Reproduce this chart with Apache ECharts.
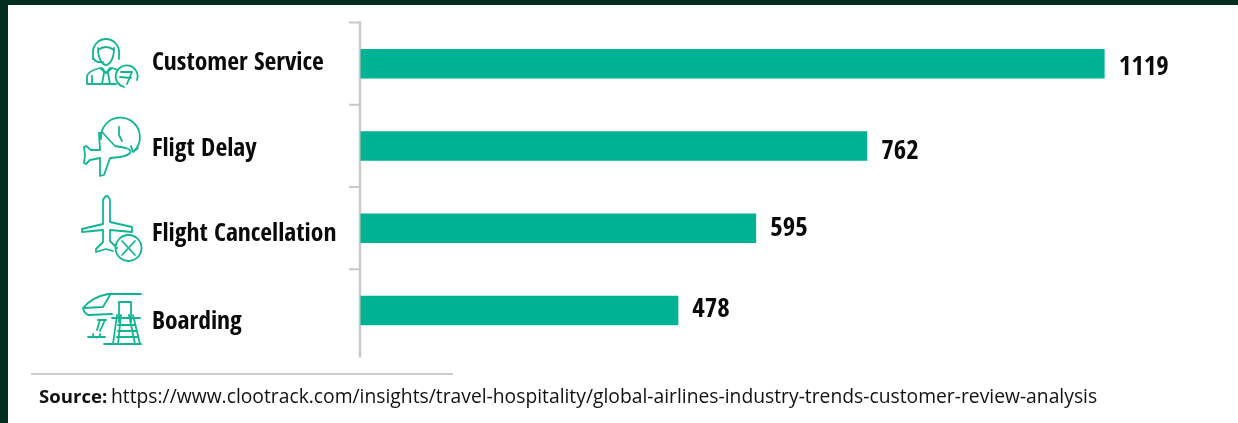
<!DOCTYPE html>
<html>
<head>
<meta charset="utf-8">
<style>
  html, body { margin: 0; padding: 0; background: #fff; }
  #chart { width: 1238px; height: 423px; }
</style>
<script src="https://cdn.jsdelivr.net/npm/echarts@6/dist/echarts.min.js"></script>
</head>
<body>
<div id="chart"></div>
<script>
const categories = ['Customer Service', 'Fligt Delay', 'Flight Cancellation', 'Boarding'];
const complaints = [1119, 762, 595, 478];
const sourceLabel = 'Source:';
const sourceUrl = 'https://www.clootrack.com/insights/travel-hospitality/global-airlines-industry-trends-customer-review-analysis';

const GREEN = '#00B294';
const ICON = '#12B593';
const AXIS_GREY = '#C9C9C9';
const DARK = '#032E1F';
const NARROW = '"Open Sans Condensed", "Roboto Condensed", sans-serif';

const GRID = { left: 360.5, top: 22.5, width: 798, height: 329 };

// Small vertical nudges for the row captions and the value labels.
const captionStyles = {
  c0: { padding: [0, 0, 0, 0] },
  c1: { padding: [6, 0, 0, 0] },
  c2: { padding: [12, 0, 0, 0] },
  c3: { padding: [24, 0, 0, 0] }
};
Object.values(captionStyles).forEach(s => {
  s.fontFamily = NARROW; s.fontWeight = 'bold'; s.fontSize = 25.6; s.color = '#0A0A0A';
});
const valueOffsets = [4, 6, 1, 0];

// Line-art pictograms, one per row.
const iconPaths = [
  // agent with headset and a small plane badge
  'M93 52 A13 13 0 1 1 119 52 M93 50 L93 59 M119 50 L119 59 M98 50 Q106 44 114 50 ' +
  'M98 48 C98 60 103 65 106 65 C109 65 114 60 114 48 M94 59 Q96 63 103 62 ' +
  'M87 84 L87 76 Q88 71 100 68 L106 73 L112 68 L118 70 M87 84 L116 84 M92 84 L92 76 ' +
  'M104 73 L102 84 M108 73 L110 84 M102 68 L106 73 L110 68 ' +
  'M124 87 A11 11 0 1 1 137 80 M121 72 L132 72 L127 84 M120 77 L131 78',
  // airliner in front of a clock
  'M101 139 A19.5 19.5 0 1 1 133 152 M133 152 L131 146 M133 152 L138 148 M119 127 L119 135 L122 141 ' +
  'M99 133 L102 132 L115 146 L126 148 Q132 150 130 153 Q127 156 120 157 L110 158 L104 175 L100 176 L100 158 ' +
  'L90 160 L86 164 L84 163 L85 155 L84 147 L86 146 L91 150 L100 150 L99 133',
  // airliner with a cross badge
  'M103 224 L103 200 Q107 192 110 200 L110 222 L132 227 L132 232 L110 230 L110 241 L117 248 ' +
  'M103 224 L82 229 L82 232 L103 230 L103 242 L96 249 L96 252 L106 249 L113 251 ' +
  'M141.5 248 A13 13 0 1 1 115.5 248 A13 13 0 1 1 141.5 248 M122 241 L135 255 M135 241 L122 255',
  // nose of a jet at the boarding stairs
  'M141 294 L108 294 Q92 297 83 308 Q84 313 88 315 L112 314 M84 308 L103 307 L110 295 ' +
  'M112 318 L140 318 M98 320 L106 320 M100 320 L97 330 M105 320 L100 331 M88 337 L105 337 M100 334 A3.5 3.5 0 1 1 93 334 ' +
  'M119 322 L119 302 L131 302 L131 322 M117 315 L113 344 M133 315 L140 344 M121 315 L118 344 M129 315 L135 344 ' +
  'M118 325 L134 325 M118 331 L136 331 M117 337 L137 337 M104 344 L141 344'
];
iconPaths.forEach((d, i) => {
  echarts.graphic.registerShape('rowIcon' + i, echarts.graphic.extendPath(d));
});

const chart = echarts.init(document.getElementById('chart'), null, { renderer: 'canvas' });

function build() {
  const graphics = [
    { type: 'rect', shape: { x: 0, y: 0, width: 1238, height: 5 }, style: { fill: DARK }, silent: true },
    { type: 'rect', shape: { x: 0, y: 0, width: 8, height: 423 }, style: { fill: DARK }, silent: true },
    // baseline stem running just below the last row
    { type: 'line', shape: { x1: 360, y1: GRID.top - 1, x2: 360, y2: 357.5 },
      style: { stroke: AXIS_GREY, lineWidth: 2.5 }, silent: true },
    // rule above the source note
    { type: 'line', shape: { x1: 31, y1: 374, x2: 453, y2: 374 },
      style: { stroke: '#9A9A9A', lineWidth: 1 }, silent: true },
    { type: 'text', x: 39, y: 398,
      style: { text: sourceLabel, font: 'bold 18.6px "Open Sans", sans-serif', fill: '#111',
               textVerticalAlign: 'middle' } },
    { type: 'text', x: 111, y: 398,
      style: { text: sourceUrl, font: '19.3px "Open Sans", sans-serif', fill: '#111',
               textVerticalAlign: 'middle' } }
  ];
  iconPaths.forEach((_, i) => graphics.push({
    type: 'rowIcon' + i,
    style: { fill: 'none', stroke: ICON, lineWidth: 1.8, lineJoin: 'round', lineCap: 'round' },
    silent: true
  }));
  // band separators on the stem; one above each row
  const band = GRID.height / categories.length;
  categories.forEach((_, i) => graphics.push({
    type: 'line',
    shape: { x1: 349, y1: GRID.top + band * i, x2: 360, y2: GRID.top + band * i },
    style: { stroke: AXIS_GREY, lineWidth: 2 }, silent: true
  }));

  return {
    animation: false,
    backgroundColor: '#fff',
    grid: Object.assign({ containLabel: false }, GRID),
    xAxis: { type: 'value', min: 0, max: 1200, show: false },
    yAxis: {
      type: 'category',
      inverse: true,
      data: categories,
      axisLine: { show: false },
      axisTick: { show: false },
      axisLabel: {
        align: 'left',
        margin: 208.5,
        formatter: (v, i) => `{c${i}|${v}}`,
        rich: captionStyles
      }
    },
    series: [{
      type: 'bar',
      barWidth: 29.5,
      itemStyle: { color: GREEN },
      data: complaints.map((v, i) => ({
        value: v,
        label: { offset: [0, valueOffsets[i]] }
      })),
      label: {
        show: true,
        position: 'right',
        distance: 14,
        fontFamily: NARROW,
        fontWeight: 'bold',
        fontSize: 27,
        color: '#0A0A0A'
      }
    }],
    graphic: graphics
  };
}
chart.setOption(build());
</script>
</body>
</html>
